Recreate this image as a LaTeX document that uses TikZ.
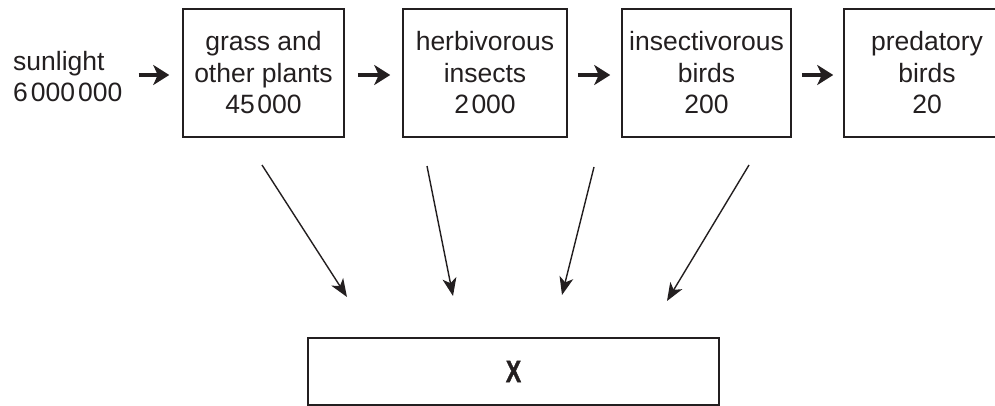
\documentclass[tikz,border=0pt]{standalone}
\usepackage{fontspec}
\setmainfont{Liberation Sans}[BoldFont={Liberation Sans Bold}]
\newfontfamily\xfont{Liberation Sans Bold}[FakeBold=1.5]
\usetikzlibrary{arrows.meta,calc}
\definecolor{ink}{HTML}{231F20}
\begin{document}
\begin{tikzpicture}[x=1pt,y=-1pt,
  lab/.style={font=\fontsize{26.5}{31.5}\selectfont, text=ink, align=center, inner sep=0pt},
  box/.style={lab, draw=ink, line width=1.5pt, minimum height=128pt},
  harrow/.style={line width=4.8pt, draw=ink, -{Stealth[length=16pt,width=20pt,inset=4.5pt]}},
  darrow/.style={line width=1.4pt, draw=ink, -{Stealth[length=18pt,width=14pt,inset=5pt]}}]
\useasboundingbox (0,0) rectangle (995,406);
% sunlight
\node[lab, align=left, anchor=west] (sun) at (13,76.5) {sunlight\\6\kern3pt000\kern3pt000};
% trophic boxes
\node[box, minimum width=161pt] (b1) at (263.5,73) {grass and\\other plants\\45\kern2.5pt000};
\node[box, minimum width=164pt] (b2) at (485,73) {herbivorous\\insects\\2\kern2.5pt000};
\node[box, minimum width=169pt] (b3) at (706.5,73) {insectivorous\\birds\\200};
\node[box, minimum width=166pt] (b4) at (927,73) {predatory\\birds\\20};
% X box
\node[draw=ink, line width=1.5pt, minimum width=411pt, minimum height=67pt, inner sep=0pt,
      font=\xfont\fontsize{31}{31}\selectfont, text=ink] (x) at (513.5,371.5) {\scalebox{0.74}[1]{X}};
% horizontal arrows
\draw[harrow, shorten <=16pt, shorten >=13pt] ($(sun.east |- b1.west)+(0,2)$) -- ($(b1.west)+(0,2)$);
\draw[harrow, shorten <=13pt, shorten >=12pt] ($(b1.east)+(0,2)$) -- ($(b2.west)+(0,2)$);
\draw[harrow, shorten <=10pt, shorten >=11pt] ($(b2.east)+(0,2)$) -- ($(b3.west)+(0,2)$);
\draw[harrow, shorten <=10pt, shorten >=10pt] ($(b3.east)+(0,2)$) -- ($(b4.west)+(0,2)$);
% diagonal arrows ends
\coordinate (s1) at (262,165); \coordinate (e1) at (347,297);
\coordinate (s2) at (427,166); \coordinate (e2) at (453,296);
\coordinate (s3) at (594,167); \coordinate (e3) at (562,295);
\coordinate (s4) at (749,165); \coordinate (e4) at (667,301);
\draw[darrow] (s1) -- (e1);
\draw[darrow] (s2) -- (e2);
\draw[darrow] (s3) -- (e3);
\draw[darrow] (s4) -- (e4);
\end{tikzpicture}
\end{document}
